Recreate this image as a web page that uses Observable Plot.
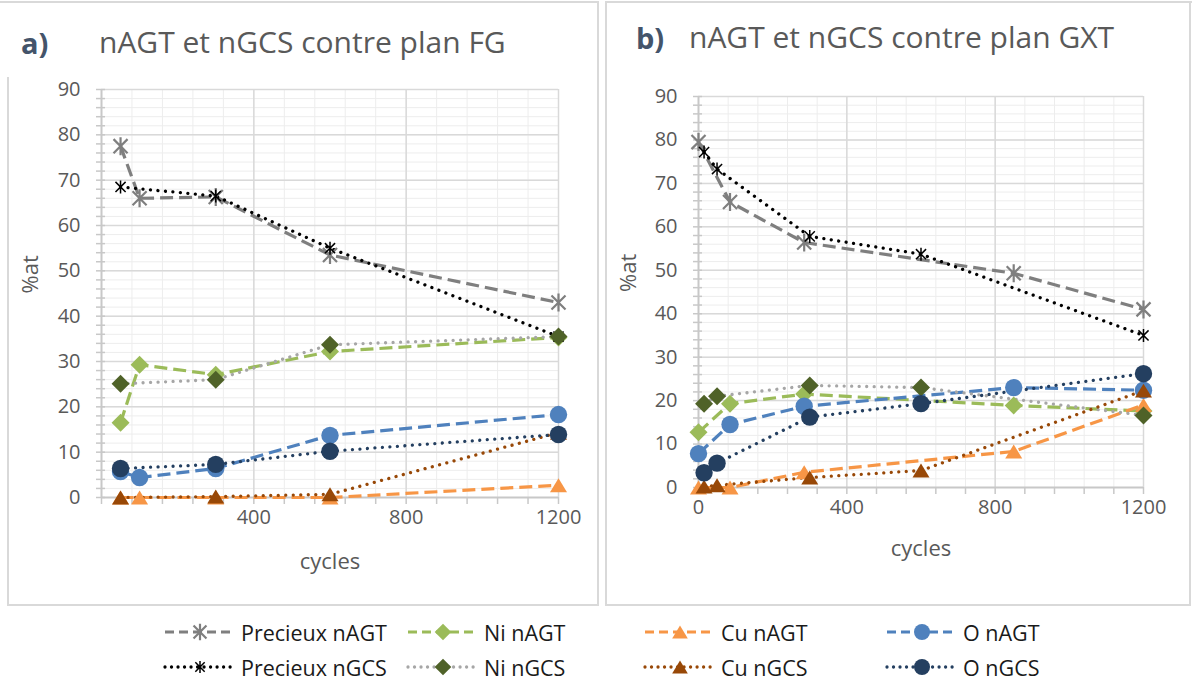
<!DOCTYPE html>
<html><head><meta charset="utf-8">
<script src="https://cdn.jsdelivr.net/npm/d3@7"></script>
<script src="https://cdn.jsdelivr.net/npm/@observablehq/plot@0.6"></script>
<style>
body{margin:0;background:#fff;}
#page{position:relative;width:1192px;height:687px;overflow:hidden;font-family:"Open Sans",Lato,sans-serif;background:#fff;}
.line{position:absolute;background:#D9D9D9;}
.tag{position:absolute;font-weight:bold;color:#44546A;font-size:29px;line-height:29px;white-space:nowrap;}
.title{position:absolute;color:#595959;font-size:30px;line-height:30px;white-space:nowrap;}
.leg{position:absolute;display:flex;align-items:center;height:24px;font-size:21.5px;color:#1a1a1a;white-space:nowrap;}
.leg svg{margin-right:6px;overflow:visible;}
</style></head><body><div id="page"></div>
<script>
// ---------- DATA ----------
const seriesNames = ["Precieux nAGT","Ni nAGT","Cu nAGT","O nAGT","Precieux nGCS","Ni nGCS","Cu nGCS","O nGCS"];
const xTickLabelsFG = [400, 800, 1200];
const xTickLabelsGXT = [0, 400, 800, 1200];
const yTickLabels = [0,10,20,30,40,50,60,70,80,90];

// Panel a) plan FG
const fgCyclesNAGT = [50, 100, 300, 600, 1200];
const fgCyclesNGCS = [50, 300, 600, 1200];
const fgPrecieuxNAGT = [77.5, 66, 66.3, 53.5, 43];
const fgNiNAGT       = [16.5, 29.3, 27.1, 32.2, 35.3];
const fgCuNAGT       = [0, 0, 0, 0, 2.7];
const fgONAGT        = [5.7, 4.4, 6.4, 13.7, 18.3];
const fgPrecieuxNGCS = [68.5, 66.5, 55, 35.5];
const fgNiNGCS       = [25.1, 26.0, 33.7, 35.5];
const fgCuNGCS       = [0, 0.2, 0.7, 14.3];
const fgONGCS        = [6.4, 7.3, 10.2, 13.9];

// Panel b) plan GXT
const gxtCyclesNAGT = [0, 85, 285, 850, 1200];
const gxtCyclesNGCS = [15, 50, 300, 600, 1200];
const gxtPrecieuxNAGT = [79.5, 65.7, 56.4, 49.3, 41];
const gxtNiNAGT       = [12.7, 19.3, 21.5, 18.9, 17.6];
const gxtCuNAGT       = [0, 0, 3.5, 8.3, 19];
const gxtONAGT        = [7.8, 14.5, 18.7, 23, 22.4];
const gxtPrecieuxNGCS = [77.2, 73.3, 57.8, 53.7, 35];
const gxtNiNGCS       = [19.3, 21, 23.5, 23, 16.6];
const gxtCuNGCS       = [0.2, 0.5, 2.3, 3.9, 22.3];
const gxtONGCS        = [3.4, 5.6, 16.2, 19.3, 26.2];

// ---------- build tables ----------
function rows(name, xs, ys){ return xs.map((x,i)=>({series:name, x, y:ys[i]})); }
const fgData = [
  rows("Precieux nAGT", fgCyclesNAGT, fgPrecieuxNAGT),
  rows("Ni nAGT", fgCyclesNAGT, fgNiNAGT),
  rows("Cu nAGT", fgCyclesNAGT, fgCuNAGT),
  rows("O nAGT", fgCyclesNAGT, fgONAGT),
  rows("Precieux nGCS", fgCyclesNGCS, fgPrecieuxNGCS),
  rows("Ni nGCS", fgCyclesNGCS, fgNiNGCS),
  rows("Cu nGCS", fgCyclesNGCS, fgCuNGCS),
  rows("O nGCS", fgCyclesNGCS, fgONGCS)
];
const gxtData = [
  rows("Precieux nAGT", gxtCyclesNAGT, gxtPrecieuxNAGT),
  rows("Ni nAGT", gxtCyclesNAGT, gxtNiNAGT),
  rows("Cu nAGT", gxtCyclesNAGT, gxtCuNAGT),
  rows("O nAGT", gxtCyclesNAGT, gxtONAGT),
  rows("Precieux nGCS", gxtCyclesNGCS, gxtPrecieuxNGCS),
  rows("Ni nGCS", gxtCyclesNGCS, gxtNiNGCS),
  rows("Cu nGCS", gxtCyclesNGCS, gxtCuNGCS),
  rows("O nGCS", gxtCyclesNGCS, gxtONGCS)
];

// ---------- symbols & styles ----------
function symbolOf(fn){ return {draw(ctx,size){ const h=Math.sqrt(size/Math.PI); fn(ctx,h); }}; }
const star = symbolOf((c,h)=>{ const k=h*0.78; c.moveTo(-k,-k);c.lineTo(k,k);c.moveTo(-k,k);c.lineTo(k,-k);c.moveTo(0,-h);c.lineTo(0,h); });
const diamond = symbolOf((c,h)=>{ c.moveTo(0,-h);c.lineTo(h,0);c.lineTo(0,h);c.lineTo(-h,0);c.closePath(); });
const triangle = symbolOf((c,h)=>{ c.moveTo(0,-h*0.82);c.lineTo(h,h*0.82);c.lineTo(-h,h*0.82);c.closePath(); });
const circle = symbolOf((c,h)=>{ c.moveTo(h,0); c.arc(0,0,h,0,2*Math.PI); });

const DASH = {dash:"13,6", width:3.2, cap:"butt"};
const DOT = {dash:"0.01,7.5", width:3.3, cap:"round"};
const styles = {
  "Precieux nAGT": {line:"#7F7F7F", pat:DASH, sym:star, r:9, fill:"none", stroke:"#7F7F7F", sw:2.2},
  "Ni nAGT":       {line:"#9BBB59", pat:DASH, sym:diamond, r:9, fill:"#9BBB59", stroke:"none", sw:0},
  "Cu nAGT":       {line:"#F79646", pat:DASH, sym:triangle, r:8.5, fill:"#F79646", stroke:"none", sw:0},
  "O nAGT":        {line:"#4F81BD", pat:DASH, sym:circle, r:8.7, fill:"#4F81BD", stroke:"none", sw:0},
  "Precieux nGCS": {line:"#000000", pat:DOT, sym:star, r:6.5, fill:"none", stroke:"#000000", sw:1.5},
  "Ni nGCS":       {line:"#A6A6A6", pat:DOT, sym:diamond, r:9, fill:"#4F6228", stroke:"none", sw:0},
  "Cu nGCS":       {line:"#984807", pat:DOT, sym:triangle, r:8.5, fill:"#984807", stroke:"none", sw:0},
  "O nGCS":        {line:"#243F60", pat:DOT, sym:circle, r:8.7, fill:"#243F60", stroke:"none", sw:0}
};

// ---------- panel builder ----------
function panel(data, xTicks, g){
  const lines = data.map(d => { const s = styles[d[0].series];
    return Plot.line(d, {x:"x", y:"y", stroke:s.line, strokeWidth:s.pat.width, strokeDasharray:s.pat.dash, strokeLinecap:s.pat.cap}); });
  const dots = data.map(d => { const s = styles[d[0].series];
    return Plot.dot(d, {x:"x", y:"y", symbol:s.sym, r:s.r, fill:s.fill, stroke:s.stroke, strokeWidth:s.sw}); });
  return Plot.plot({
    width:g.width, height:g.height,
    marginLeft:g.ml, marginRight:g.mr, marginTop:g.mt, marginBottom:g.mb,
    x:{domain:[0,1200], label:null},
    y:{domain:[0,90], label:null},
    style:{fontFamily:"'Open Sans', Lato, sans-serif", fontSize:"20px", background:"transparent", overflow:"visible", color:"#595959"},
    marks:[
      Plot.ruleY(d3.range(0,91,2), {stroke:"#EDEDED", strokeWidth:1}),
      Plot.ruleX(d3.range(0,1201,80), {stroke:"#EDEDED", strokeWidth:1}),
      Plot.ruleY(d3.range(10,91,10), {stroke:"#D9D9D9", strokeWidth:1.5}),
      Plot.ruleX([400,800,1200], {stroke:"#D9D9D9", strokeWidth:1.5}),
      Plot.axisY({ticks:d3.range(0,91,2), tickSize:9, dx:4, tickFormat:()=>"", stroke:"#C8C8C8", strokeWidth:1.5, label:null}),
      Plot.axisX({ticks:d3.range(0,1201,80), tickSize:7, tickFormat:()=>"", stroke:"#C8C8C8", strokeWidth:1.5, label:null}),
      Plot.ruleX([0], {stroke:"#C8C8C8", strokeWidth:2}),
      Plot.ruleY([0], {stroke:"#C8C8C8", strokeWidth:2}),
      Plot.axisY({ticks:yTickLabels, tickSize:0, tickPadding:21, fontSize:20, fill:"#595959", tickFormat:d=>String(d), label:null}),
      Plot.axisX({ticks:xTicks, tickSize:0, tickPadding:12, fontSize:20, fill:"#595959", tickFormat:d=>String(d), label:null}),
      ...lines, ...dots,
      Plot.text(["cycles"], {text:d=>d, frameAnchor:"bottom", dy:g.cyclesDy, fontSize:22, fill:"#595959"}),
      Plot.text(["%at"], {text:d=>d, frameAnchor:"left", dx:g.atDx, rotate:-90, fontSize:22, fill:"#595959"})
    ]
  });
}

const page = document.getElementById("page");
function add(html){ const t=document.createElement("div"); t.innerHTML=html; const el=t.firstElementChild; page.appendChild(el); return el; }

// panel frames
add('<div class="line" style="left:0;top:1px;width:599px;height:1.5px"></div>');
add('<div class="line" style="left:7px;top:77px;width:1.5px;height:529px"></div>');
add('<div class="line" style="left:597px;top:1px;width:1.5px;height:605px"></div>');
add('<div class="line" style="left:7px;top:604px;width:592px;height:1.5px"></div>');
add('<div class="line" style="left:605px;top:1px;width:587px;height:1.5px"></div>');
add('<div class="line" style="left:605px;top:1px;width:1.5px;height:605px"></div>');
add('<div class="line" style="left:1189px;top:1px;width:1.5px;height:605px"></div>');
add('<div class="line" style="left:605px;top:604px;width:586px;height:1.5px"></div>');

// titles
add('<div class="tag" style="left:21px;top:28px">a)</div>');
add('<div class="title" style="left:99px;top:27px">nAGT et nGCS contre plan FG</div>');
add('<div class="tag" style="left:636px;top:23px">b)</div>');
add('<div class="title" style="left:689px;top:22px">nAGT et nGCS contre plan GXT</div>');

// plots
const p1 = panel(fgData, xTickLabelsFG, {width:598, height:540, ml:101, mr:40, mt:29, mb:103, cyclesDy:71, atDx:-71});
p1.style.position="absolute"; p1.style.left="0px"; p1.style.top="60px"; page.appendChild(p1);
const p2 = panel(gxtData, xTickLabelsGXT, {width:586, height:540, ml:92, mr:49, mt:36, mb:113, cyclesDy:68, atDx:-70});
p2.style.position="absolute"; p2.style.left="606px"; p2.style.top="60px"; page.appendChild(p2);

// legend
const legX = [165, 408, 645, 887];
const legY = [620, 655];
seriesNames.forEach((name,i)=>{
  const s = styles[name];
  const col = i%4, row = Math.floor(i/4);
  const p = d3.path(); s.sym.draw(p, Math.PI*s.r*s.r*0.85);
  const svg = `<svg width="70" height="24"><line x1="0" x2="70" y1="12" y2="12" stroke="${s.line}" stroke-width="${s.pat.width}" stroke-dasharray="${s.pat===DASH?'9,5':'0.01,6.5'}" stroke-linecap="${s.pat.cap}"/><path transform="translate(35,12)" d="${p.toString()}" fill="${s.fill}" stroke="${s.stroke}" stroke-width="${s.sw}"/></svg>`;
  add(`<div class="leg" style="left:${legX[col]}px;top:${legY[row]}px">${svg}<span>${name}</span></div>`);
});
</script></body></html>
